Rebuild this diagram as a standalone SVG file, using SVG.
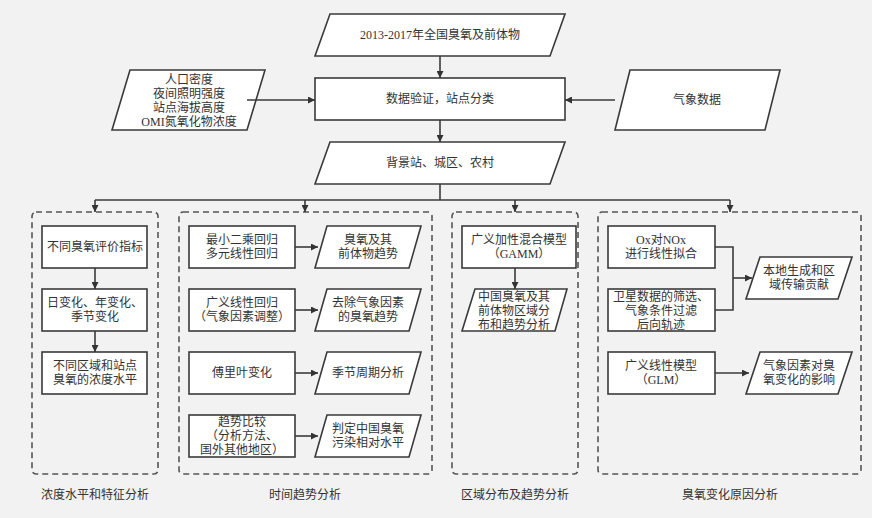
<svg xmlns="http://www.w3.org/2000/svg" width="872" height="518" viewBox="0 0 872 518">
<defs>
<marker id="ah" viewBox="0 0 10 10" refX="10" refY="5" markerWidth="7" markerHeight="7" orient="auto" markerUnits="userSpaceOnUse"><path d="M0,0 L10,5 L0,10 z" fill="#333"/></marker>
<style>
.s{fill:#fff;stroke:#3a3a3a;stroke-width:1.6}
.d{fill:none;stroke:#555;stroke-width:1.6;stroke-dasharray:6,4}
.c{fill:none;stroke:#3a3a3a;stroke-width:1.6}
.a{marker-end:url(#ah)}
text{font-family:"Liberation Serif","Noto Sans CJK SC",serif;font-size:12px;fill:#333;text-anchor:middle}
</style>
</defs>
<rect width="872" height="518" fill="#f2f2f2"/>
<g id="n-top"><polygon class="s" points="330,14 565,14 550,56 315,56"/><text x="440" y="39">2013-2017年全国臭氧及前体物</text></g>
<g id="n-left"><polygon class="s" points="130,70 265,70 247,130 112,130"/><text x="189" y="84">人口密度</text><text x="189" y="98">夜间照明强度</text><text x="189" y="112">站点海拔高度</text><text x="189" y="126">OMI氮氧化物浓度</text></g>
<g id="n-valid"><rect class="s" x="315" y="78" width="250" height="42"/><text x="440" y="103">数据验证，站点分类</text></g>
<g id="n-met"><polygon class="s" points="630,70 780,70 765,130 615,130"/><text x="697" y="104">气象数据</text></g>
<g id="n-class"><polygon class="s" points="330,142 565,142 550,184 315,184"/><text x="440" y="167">背景站、城区、农村</text></g>
<g id="g1"><rect class="d" x="32" y="212" width="126" height="262" rx="4"/><text x="95" y="499">浓度水平和特征分析</text></g>
<g id="g2"><rect class="d" x="179" y="212" width="253" height="262" rx="4"/><text x="305" y="499">时间趋势分析</text></g>
<g id="g3"><rect class="d" x="452" y="212" width="126" height="262" rx="4"/><text x="515" y="499">区域分布及趋势分析</text></g>
<g id="g4"><rect class="d" x="598" y="212" width="263" height="262" rx="4"/><text x="730" y="499">臭氧变化原因分析</text></g>
<g id="b1a"><rect class="s" x="42" y="226" width="105" height="42"/><text x="95" y="251">不同臭氧评价指标</text></g>
<g id="b1b"><rect class="s" x="42" y="289" width="105" height="42"/><text x="95" y="307">日变化、年变化、</text><text x="95" y="321">季节变化</text></g>
<g id="b1c"><rect class="s" x="42" y="352" width="105" height="42"/><text x="95" y="370">不同区域和站点</text><text x="95" y="384">臭氧的浓度水平</text></g>
<g id="b2a"><rect class="s" x="189" y="226" width="106" height="42"/><text x="242" y="244">最小二乘回归</text><text x="242" y="258">多元线性回归</text></g>
<g id="b2b"><rect class="s" x="189" y="289" width="106" height="42"/><text x="242" y="307">广义线性回归</text><text x="242" y="321">（气象因素调整）</text></g>
<g id="b2c"><rect class="s" x="189" y="352" width="106" height="42"/><text x="242" y="377">傅里叶变化</text></g>
<g id="b2d"><rect class="s" x="189" y="415" width="106" height="42"/><text x="242" y="426">趋势比较</text><text x="242" y="440">（分析方法、</text><text x="242" y="454">国外其他地区）</text></g>
<g id="p2a"><polygon class="s" points="327,226 421,226 409,268 315,268"/><text x="368" y="244">臭氧及其</text><text x="368" y="258">前体物趋势</text></g>
<g id="p2b"><polygon class="s" points="327,289 421,289 409,331 315,331"/><text x="368" y="307">去除气象因素</text><text x="368" y="321">的臭氧趋势</text></g>
<g id="p2c"><polygon class="s" points="327,352 421,352 409,394 315,394"/><text x="368" y="377">季节周期分析</text></g>
<g id="p2d"><polygon class="s" points="327,415 421,415 409,457 315,457"/><text x="368" y="433">判定中国臭氧</text><text x="368" y="447">污染相对水平</text></g>
<g id="b3a"><rect class="s" x="462" y="226" width="114" height="42"/><text x="519" y="244">广义加性混合模型</text><text x="519" y="258">（GAMM）</text></g>
<g id="p3a"><polygon class="s" points="475,289 567,289 555,331 462,331"/><text x="514" y="301">中国臭氧及其</text><text x="514" y="315">前体物区域分</text><text x="514" y="329">布和趋势分析</text></g>
<g id="b4a"><rect class="s" x="608" y="226" width="107" height="42"/><text x="661" y="244">Ox对NOx</text><text x="661" y="258">进行线性拟合</text></g>
<g id="b4b"><rect class="s" x="608" y="289" width="107" height="42"/><text x="661" y="301">卫星数据的筛选、</text><text x="661" y="315">气象条件过滤</text><text x="661" y="329">后向轨迹</text></g>
<g id="b4c"><rect class="s" x="608" y="352" width="107" height="42"/><text x="661" y="370">广义线性模型</text><text x="661" y="384">（GLM）</text></g>
<g id="p4a"><polygon class="s" points="760,257 852,257 838,299 746,299"/><text x="799" y="275">本地生成和区</text><text x="799" y="289">域传输贡献</text></g>
<g id="p4b"><polygon class="s" points="760,352 852,352 838,394 746,394"/><text x="799" y="370">气象因素对臭</text><text x="799" y="384">氧变化的影响</text></g>
<g id="connectors">
<line class="c a" x1="440" y1="56" x2="440" y2="78"/>
<line class="c a" x1="247" y1="100" x2="315" y2="100"/>
<line class="c a" x1="615" y1="100" x2="565" y2="100"/>
<line class="c a" x1="440" y1="120" x2="440" y2="142"/>
<polyline class="c" points="440,184 440,200"/>
<polyline class="c" points="95,200 730,200"/>
<line class="c a" x1="95" y1="200" x2="95" y2="212"/>
<line class="c a" x1="305" y1="200" x2="305" y2="212"/>
<line class="c a" x1="515" y1="200" x2="515" y2="212"/>
<line class="c a" x1="730" y1="200" x2="730" y2="212"/>
<line class="c a" x1="95" y1="268" x2="95" y2="289"/>
<line class="c a" x1="95" y1="331" x2="95" y2="352"/>
<line class="c a" x1="295" y1="247" x2="318" y2="247"/>
<line class="c a" x1="295" y1="310" x2="318" y2="310"/>
<line class="c a" x1="295" y1="373" x2="318" y2="373"/>
<line class="c a" x1="295" y1="436" x2="318" y2="436"/>
<line class="c a" x1="515" y1="268" x2="515" y2="289"/>
<polyline class="c" points="715,247 733,247 733,310 715,310"/>
<line class="c a" x1="733" y1="278" x2="752" y2="278"/>
<line class="c a" x1="715" y1="373" x2="749" y2="373"/>
</g>
</svg>
